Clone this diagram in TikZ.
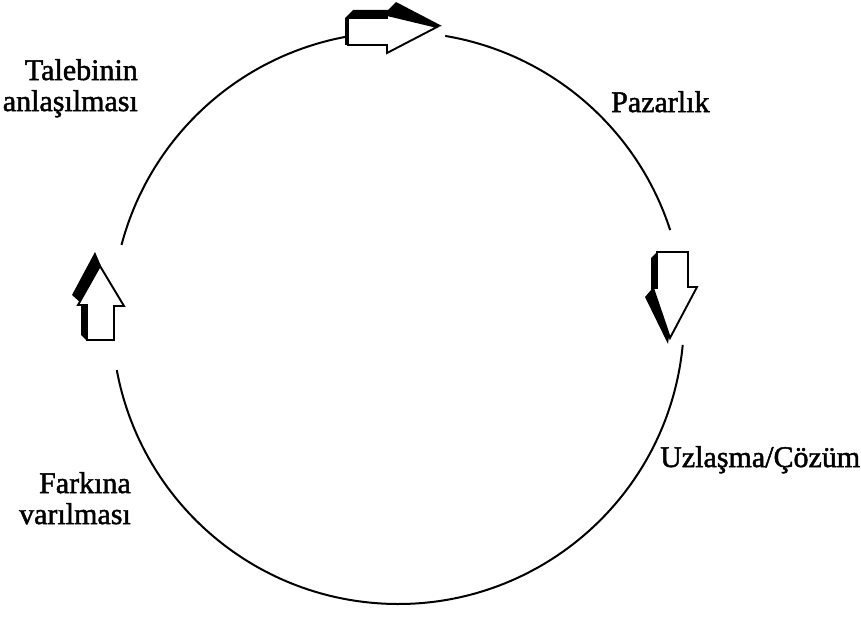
\documentclass[tikz,border=0pt]{standalone}
\usepackage{fontspec}
\setmainfont{Liberation Serif}
\newfontfamily\lblfont{Liberation Serif}[FakeBold=1.6]
\usetikzlibrary{calc}
\begin{document}
\begin{tikzpicture}[x=1pt,y=-1pt,
  ring/.style={line width=2pt},
  shade/.style={fill=black},
  arrowbox/.style={fill=white,draw=black,line width=1.9pt,line join=miter},
  lbl/.style={inner sep=0pt,font=\lblfont\fontsize{30}{31}\selectfont,align=right}]
\useasboundingbox (0,0) rectangle (861,617);
\fill[white] (0,0) rectangle (861,617);
\coordinate (c) at (398,318);
% circle arcs
\draw[ring] ($(c)+(279.5:286)$) arc[start angle=279.5,end angle=342.1,radius=286];
\draw[ring] ($(c)+(5.4:286)$) arc[start angle=5.4,end angle=169.5,radius=286];
\draw[ring] ($(c)+(194.8:286)$) arc[start angle=194.8,end angle=259.3,radius=286];
% top arrow (right)
\fill[shade] (345,45) -- (345,18) -- (353,10) -- (388,10) -- (396,2) -- (442,26) -- (410,32) -- (360,44) -- cycle;
\draw[arrowbox] (348,18) -- (387,18) -- (387,15) -- (437,27) -- (387,53) -- (387,45) -- (348,45) -- cycle;
% right arrow (down)
\fill[shade] (670,300) -- (657,252) -- (651,258) -- (651,290) -- (645,297) -- (668,344) -- (671,320) -- cycle;
\draw[arrowbox] (657,252) -- (688,252) -- (688,287) -- (697,287) -- (670,338) -- (653,288) -- (657,288) -- cycle;
% left arrow (up)
\fill[shade] (87,341) -- (81,335) -- (81,303) -- (72,295) -- (95,252) -- (101,266) -- (100,320) -- cycle;
\draw[arrowbox] (87,340) -- (114,340) -- (114,306) -- (124,306) -- (100,266) -- (78,305) -- (87,305) -- cycle;
% labels
\node[lbl,anchor=north east] (t1) at (138,59) {Talebinin\\anlaşılması};
\node[lbl,anchor=north west] (t2) at (611,91) {Pazarlık};
\node[lbl,anchor=north west] (t3) at (660,446) {Uzlaşma/Çözüm};
\node[lbl,anchor=north east] (t4) at (131,472) {Farkına\\varılması};
\end{tikzpicture}
\end{document}
